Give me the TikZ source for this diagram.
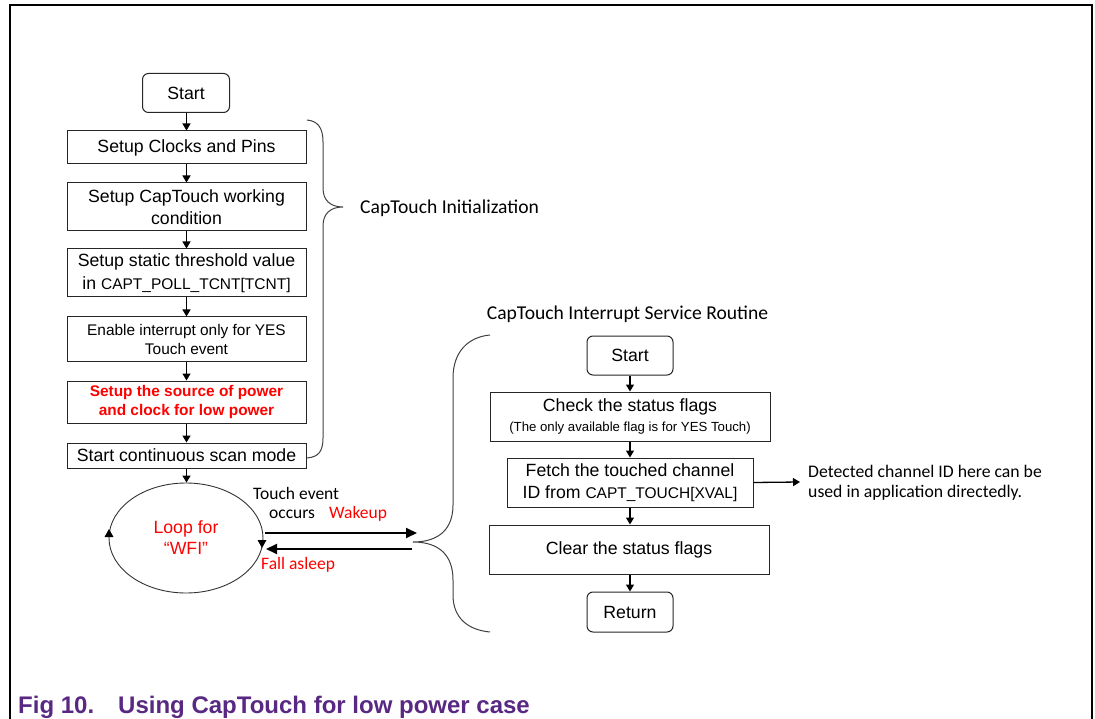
\documentclass[tikz,border=0pt]{standalone}
\usepackage{fontspec}
\setmainfont{Liberation Sans}
\newfontfamily\calfont{Carlito}
\usetikzlibrary{arrows.meta,shapes.geometric}
\definecolor{capred}{RGB}{255,0,0}
\definecolor{figpurple}{RGB}{88,40,130}
\newcommand\regfont{\fontsize{15.5}{19}\selectfont}
\begin{document}
\begin{tikzpicture}[x=1pt,y=-1pt,
 box/.style={draw=black!85, line width=1pt, inner sep=0pt, align=center, font=\fontsize{17.7}{21}\selectfont},
 rbox/.style={box, rounded corners=6pt},
 flow/.style={-{Triangle[width=8pt,length=7pt]}, line width=1.3pt},
 bigarrow/.style={-{Triangle[width=10pt,length=11pt]}, line width=2pt},
 brace/.style={draw=black!75, line width=1pt},
 lbl/.style={font=\calfont\fontsize{17.5}{20}\selectfont, inner sep=0pt, anchor=west},
 biglbl/.style={font=\calfont\fontsize{19.6}{23}\selectfont, inner sep=0pt},
 frame/.style={line width=2pt},
]
\useasboundingbox (0,0) rectangle (1095,719);
% frame
\draw[frame] (10,719) -- (10,5) -- (1092,5) -- (1092,719);

% left flow
\node[rbox, minimum width=87pt, minimum height=39pt] (st1) at (186,93) {Start};
\node[box, minimum width=239pt, minimum height=33pt] (b1) at (186.5,147.5) {Setup Clocks and Pins};
\node[box, minimum width=239pt, minimum height=48pt, font=\fontsize{17.7}{22}\selectfont] (b2) at (186.5,207) {Setup CapTouch working\\condition};
\node[box, minimum width=239pt, minimum height=48pt, font=\fontsize{17.7}{23}\selectfont] (b3) at (186.5,273) {Setup static threshold value\\in {\regfont CAPT\_POLL\_TCNT[TCNT]}};
\node[box, minimum width=239pt, minimum height=44pt, font=\fontsize{15.4}{19}\selectfont] (b4) at (186.5,339) {Enable interrupt only for YES\\Touch event};
\node[box, minimum width=239pt, minimum height=42pt, font=\bfseries\fontsize{15.4}{19}\selectfont, text=capred] (b5) at (186.5,402) {Setup the source of power\\and clock for low power};
\node[box, minimum width=239pt, minimum height=25pt] (b6) at (186.5,455.5) {Start continuous scan mode};
\node[ellipse, draw=black!80, line width=0.9pt, minimum width=154pt, minimum height=110pt, inner sep=0pt, align=center, text=capred, font=\fontsize{17.7}{21}\selectfont] (loop) at (186,538) {Loop for\\“WFI”};

\draw[flow] (st1.south -| b1.north) -- (b1.north);
\draw[flow] (b1) -- (b2);
\draw[flow] (b2) -- (b3);
\draw[flow] (b3) -- (b4);
\draw[flow] (b4) -- (b5);
\draw[flow] (b5) -- (b6);
\draw[flow] (b6.south) -- (b6.south |- loop.north);

% circulation marks on the loop
\fill (109,529) -- (104.5,537) -- (113.5,537) -- cycle;
\fill (262,548) -- (257.5,540) -- (266.5,540) -- cycle;

% init brace
\node[biglbl, anchor=west] (initlbl) at (360,208) {CapTouch Initialization};
\draw[brace] (307,120) .. controls (318,121) and (323,128) .. (323,142)
  -- (323,188) .. controls (323,200) and (330,207) .. (343,207)
  .. controls (330,207) and (323,214) .. (323,226)
  -- (323,438) .. controls (323,452) and (318,457) .. (307,458);

% wake / sleep arrows
\coordinate (wkA) at (265,533);
\coordinate (wkB) at (417,533);
\coordinate (slA) at (412,549);
\coordinate (slB) at (266,549);
\draw[bigarrow] (wkA) -- (wkB);
\draw[bigarrow] (slA) -- (slB);
\node[lbl] (te) at (253,493) {Touch event};
\node[lbl] (oc) at (269,514) {occurs};
\node[lbl, text=capred] (wu) at (329,514) {Wakeup};
\node[lbl, text=capred] (fa) at (261,565) {Fall asleep};

% ISR brace
\node[biglbl] (isrlbl) at (627.5,314) {CapTouch Interrupt Service Routine};
\draw[brace] (490,335) .. controls (468,337) and (453,352) .. (453,378)
  -- (453,505) .. controls (453,528) and (440,542) .. (413,542)
  .. controls (440,542) and (453,556) .. (453,580)
  -- (453,595) .. controls (453,618) and (468,630) .. (490,632);

% ISR flow
\node[rbox, minimum width=86pt, minimum height=39pt] (st2) at (630,355.5) {Start};
\node[box, minimum width=280pt, minimum height=49pt, font=\fontsize{17.7}{20}\selectfont] (c1) at (630,416.5) {Check the status flags\\{\fontsize{13.2}{15}\selectfont (The only available flag is for YES Touch)}};
\node[box, minimum width=246pt, minimum height=49pt, font=\fontsize{17.7}{22}\selectfont] (c2) at (630,482.5) {Fetch the touched channel\\ID from {\regfont CAPT\_TOUCH[XVAL]}};
\node[box, minimum width=280pt, minimum height=49pt] (c3) at (629,549.5) {Clear the status flags};
\node[rbox, minimum width=86pt, minimum height=40pt] (ret) at (630,612) {Return};

\draw[flow] (st2) -- (c1);
\draw[flow] (c1) -- (c2);
\draw[flow] (c2.south) -- (c2.south |- c3.north);
\draw[flow] (c3.south -| ret.north) -- (ret.north);

\coordinate (detA) at (800,482);
\draw[flow] (c2.east) -- (detA);
\node[lbl, align=left, font=\calfont\fontsize{17.7}{20}\selectfont] (det) at (808,483) {Detected channel ID here can be\\used in application directedly.};

% caption
\node[anchor=base west, inner sep=0pt, text=figpurple, font=\bfseries\fontsize{24}{28}\selectfont] (cap) at (18,713) {Fig 10.\hspace{24pt}Using CapTouch for low power case};
\end{tikzpicture}
\end{document}
